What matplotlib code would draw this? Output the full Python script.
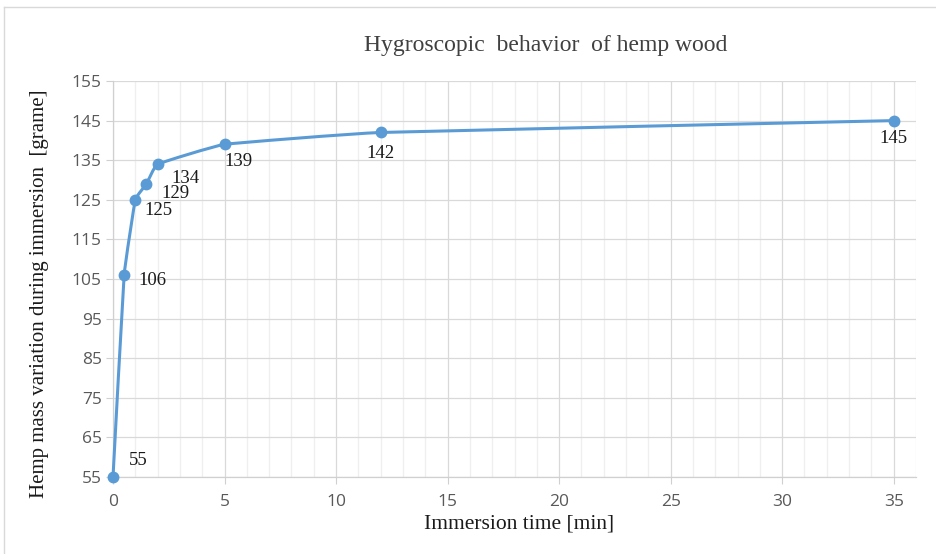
import numpy as np
import matplotlib.pyplot as plt
from matplotlib.path import Path
from matplotlib.patches import PathPatch
from matplotlib.lines import Line2D

# data
time_min = [0, 0.5, 1, 1.5, 2, 5, 12, 35]
mass_g = [55, 106, 125, 129, 134, 139, 142, 145]
# label offsets in points (dx, dy), relative to each marker
label_offsets = [(18, 12), (20, -4), (17, -8), (21, -7), (20, -10), (10, -12), (0, -15), (0, -13)]

blue = '#5b9bd5'
serif = ['Liberation Serif', 'DejaVu Serif']
sans = ['Open Sans', 'DejaVu Sans']


def smooth_path(x, y, k=1 / 24):
    """lightly smoothed line as cubic bezier segments."""
    pts = np.column_stack([x, y]).astype(float)
    n = len(pts)
    verts = [pts[0]]
    codes = [Path.MOVETO]
    for i in range(n - 1):
        p0 = pts[i - 1] if i > 0 else pts[i]
        p1 = pts[i]
        p2 = pts[i + 1]
        p3 = pts[i + 2] if i + 2 < n else pts[i + 1]
        c1 = p1 + (p2 - p0) * k
        c2 = p2 - (p3 - p1) * k
        verts += [c1, c2, p2]
        codes += [Path.CURVE4] * 3
    return Path(verts, codes)


fig = plt.figure(figsize=(9.36, 5.54), dpi=100)
ax = fig.add_axes([113 / 936, 1 - 477 / 554, (916 - 113) / 936, (477 - 81) / 554])

ax.set_xlim(0, 36)
ax.set_ylim(55, 155)
ax.set_xticks(np.arange(0, 36, 5))
ax.set_xticks(np.arange(0, 37, 1), minor=True)
ax.set_yticks(np.arange(55, 156, 10))
ax.grid(which='major', color='#d9d9d9', lw=0.9)
ax.grid(which='minor', axis='x', color='#efefef', lw=0.9)
ax.set_axisbelow(True)

for side in ['top', 'right']:
    ax.spines[side].set_visible(False)
for side in ['left', 'bottom']:
    ax.spines[side].set_color('#d0d0d0')
    ax.spines[side].set_linewidth(0.9)

ax.tick_params(which='major', length=5, color='#d0d0d0', labelcolor='#595959', labelsize=12.5, pad=3)
ax.tick_params(which='minor', length=0)
for lab in ax.get_xticklabels() + ax.get_yticklabels():
    lab.set_family(sans)
ax.tick_params(axis='x', pad=7)

ax.add_patch(PathPatch(smooth_path(time_min, mass_g), facecolor='none', edgecolor=blue, lw=2.2,
                       clip_on=False, zorder=3))
ax.plot(time_min, mass_g, 'o', color=blue, ms=7.5, clip_on=False, zorder=4)

for x, y, (dx, dy) in zip(time_min, mass_g, label_offsets):
    ax.annotate(str(y), (x, y), xytext=(dx, dy), textcoords='offset points', ha='center', va='center',
                fontsize=13.5, family=serif, color='#1a1a1a')

fig.text(546 / 936, 1 - 46 / 554, 'Hygroscopic  behavior  of hemp wood', ha='center', va='center',
         fontsize=17, family=serif, color='#404040')
fig.text(40 / 936, 1 - 294 / 554, 'Hemp mass variation during immersion  [grame]', rotation=90,
         ha='center', va='center', fontsize=15, family=serif, color='#1a1a1a')
fig.text(519 / 936, 1 - 524 / 554, 'Immersion time [min]', ha='center', va='center',
         fontsize=15.5, family=serif, color='#1a1a1a')

# outer chart border
fig.add_artist(Line2D([4 / 936, 4 / 936], [0, 1 - 7 / 554], color='#d9d9d9', lw=1))
fig.add_artist(Line2D([4 / 936, 1], [1 - 7 / 554, 1 - 7 / 554], color='#d9d9d9', lw=1))

fig.savefig('out.png', dpi=100)
